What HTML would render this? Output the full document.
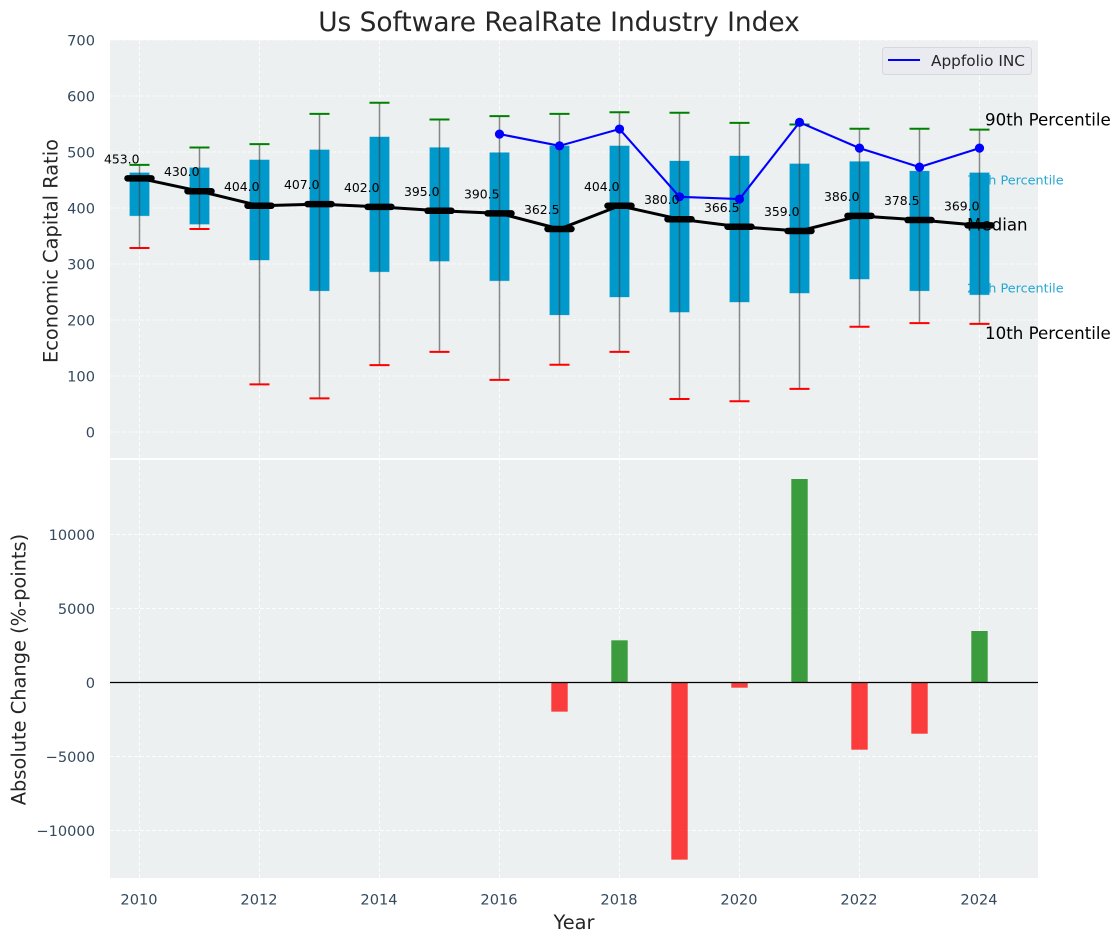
<!DOCTYPE html>
<html lang="en">
<head>
<meta charset="utf-8">
<title>Us Software RealRate Industry Index</title>
<style>
html,body{margin:0;padding:0;background:#fff;width:1120px;height:942px;overflow:hidden}
svg{display:block;font-family:"DejaVu Sans","Liberation Sans",sans-serif}
</style>
</head>
<body>
<svg id="chart" xmlns="http://www.w3.org/2000/svg" width="1120" height="942" viewBox="0 0 1120 942">
  <rect x="110" y="40" width="928" height="418" fill="#ecf0f1"/>
  <rect x="110" y="460" width="928" height="418" fill="#ecf0f1"/>
  <g id="grid"></g>
  <g id="ticks" font-size="14.6" fill="#34495e"></g>
  <g id="boxes"></g>
  <g id="annotations">
    <text x="967" y="184.5" font-size="12.8" fill="#0099cc" fill-opacity="0.85">75th Percentile</text>
    <text x="967" y="292.5" font-size="12.8" fill="#0099cc" fill-opacity="0.85">25th Percentile</text>
    <text x="967" y="230.5" font-size="16.67" fill="#000">Median</text>
  </g>
  <g id="whiskers"></g>
  <path id="median-line" fill="none" stroke="#000" stroke-width="3"/>
  <g id="median-caps"></g>
  <path id="company-line" fill="none" stroke="#0000ff" stroke-width="2.1"/>
  <g id="company-points"></g>
  <g id="median-values" font-size="12.4" fill="#000" text-anchor="end"></g>
  <text x="985" y="125.5" font-size="16.67" fill="#000">90th Percentile</text>
  <text x="985" y="339" font-size="16.67" fill="#000">10th Percentile</text>
  <g id="change-bars"></g>
  <line id="zero-line" x1="110" x2="1038" stroke="#000" stroke-width="1.3"/>
  <text x="559" y="31" font-size="26.4" fill="#262626" text-anchor="middle">Us Software RealRate Industry Index</text>
  <text transform="translate(57.5,251) rotate(-90)" font-size="19.4" fill="#262626" text-anchor="middle">Economic Capital Ratio</text>
  <text transform="translate(25.5,669.5) rotate(-90)" font-size="19.4" fill="#262626" text-anchor="middle">Absolute Change (%-points)</text>
  <text x="574" y="929" font-size="19.4" fill="#262626" text-anchor="middle">Year</text>
  <g>
    <rect x="882.5" y="47.5" width="149" height="27" rx="3" fill="#e9ebf1" stroke="#d6d8dd" stroke-width="1"/>
    <line x1="888" x2="920" y1="60" y2="60" stroke="#0000ff" stroke-width="2"/>
    <text x="931" y="66" font-size="15.3" fill="#262626">Appfolio INC</text>
  </g>
</svg>
<script>
const years = [2010,2011,2012,2013,2014,2015,2016,2017,2018,2019,2020,2021,2022,2023,2024];
const p90 = [477,508,514,568,588,558,564,568,571,570,552,549,541.6,541.6,540];
const p75 = [463,472,486,504,527,508,499,511,511,484,493,479,483,466,463];
const medians = [453,430,404,407,402,395,390.5,362.5,404,380,366.5,359,386,378.5,369];
const p25 = [386,371,307,252,286,305,270,209,241,214,232,248,273,252,245];
const p10 = [328.5,362.5,85,60,119.5,143,93,120,143,59,55,77,188,194.5,193];
const companyYears = [2016,2017,2018,2019,2020,2021,2022,2023,2024];
const companyValues = [532,511,541,420,416,553,507,473,507];
const changeYears = [2017,2018,2019,2020,2021,2022,2023,2024];
const changeValues = [-1970,2850,-11970,-350,13750,-4540,-3460,3480];
const xTicks = [2010,2012,2014,2016,2018,2020,2022,2024];
const topTicks = [0,100,200,300,400,500,600,700];
const bottomTicks = [-10000,-5000,0,5000,10000];

const NS = 'http://www.w3.org/2000/svg';
const xScale = function (year) { return 139.5 + (year - 2010) * 60; };
const yTop = function (value) { return 432 - value * 0.56; };
const yBottom = function (value) { return 682.5 - value * 0.0148; };
const make = function (parent, tag, props) {
  const node = document.createElementNS(NS, tag);
  Object.keys(props).forEach(function (key) { node.setAttribute(key, props[key]); });
  document.getElementById(parent).appendChild(node);
  return node;
};
const gridProps = { stroke: '#ffffff', 'stroke-width': 1, 'stroke-dasharray': '4 2', 'stroke-opacity': 0.8 };

xTicks.forEach(function (year) {
  [[40, 458], [460, 878]].forEach(function (span) {
    const line = make('grid', 'line', Object.assign({ x1: xScale(year), x2: xScale(year), y1: span[0], y2: span[1] }, gridProps));
    
    
  });
  const label = make('ticks', 'text', { x: xScale(year) - 0.5, y: 904.5, 'text-anchor': 'middle' });
  
  
  label.textContent = year;
});

topTicks.forEach(function (value) {
  const line = make('grid', 'line', Object.assign({ x1: 110, x2: 1038, y1: yTop(value), y2: yTop(value) }, gridProps));
  
  
  const label = make('ticks', 'text', { x: 95, y: yTop(value) + 5.3, 'text-anchor': 'end' });
  
  
  label.textContent = value;
});

bottomTicks.forEach(function (value) {
  const line = make('grid', 'line', Object.assign({ x1: 110, x2: 1038, y1: yBottom(value), y2: yBottom(value) }, gridProps));
  
  
  const label = make('ticks', 'text', { x: 95, y: yBottom(value) + 5.3, 'text-anchor': 'end' });
  
  
  label.textContent = String(value).replace('-', '\u2212');
});

years.forEach(function (year, i) {
  const cx = xScale(year);
  const box = make('boxes', 'rect', { x: cx - 9.8, y: yTop(p75[i]), width: 19.6, height: yTop(p25[i]) - yTop(p75[i]), fill: '#0099cc', stroke: '#0099cc', 'stroke-opacity': 0.2, 'stroke-width': 1 });
  
  

  const whisker = make('whiskers', 'line', { x1: cx, x2: cx, y1: yTop(p90[i]), y2: yTop(p10[i]), stroke: '#404040', 'stroke-opacity': 0.6, 'stroke-width': 1.5 });
  
  

  const capHigh = make('whiskers', 'line', { x1: cx - 10, x2: cx + 10, y1: yTop(p90[i]), y2: yTop(p90[i]), stroke: '#008000', 'stroke-width': 2 });
  
  

  const capLow = make('whiskers', 'line', { x1: cx - 10, x2: cx + 10, y1: yTop(p10[i]), y2: yTop(p10[i]), stroke: '#ff0000', 'stroke-width': 2 });
  
  

  const medianCap = make('median-caps', 'line', { x1: cx - 12, x2: cx + 12, y1: yTop(medians[i]), y2: yTop(medians[i]), stroke: '#000', 'stroke-width': 6.5, 'stroke-linecap': 'round' });
  
  

  const value = make('median-values', 'text', { x: cx, y: yTop(medians[i]) - 15 });
  
  
  value.textContent = medians[i].toFixed(1);
});

document.getElementById('median-line').setAttribute('d', years.map(function (year, i) {
  return (i ? 'L' : 'M') + xScale(year) + ' ' + yTop(medians[i]);
}).join(' '));

document.getElementById('company-line').setAttribute('d', companyYears.map(function (year, i) {
  return (i ? 'L' : 'M') + xScale(year) + ' ' + yTop(companyValues[i]);
}).join(' '));

companyYears.forEach(function (year, i) {
  const point = make('company-points', 'circle', { cx: xScale(year), cy: yTop(companyValues[i]), r: 4.6, fill: '#0000ff' });
  
  
});

changeYears.forEach(function (year, i) {
  const value = changeValues[i];
  const bar = make('change-bars', 'rect', {
    x: xScale(year) - 8.2,
    y: Math.min(yBottom(value), yBottom(0)),
    width: 16.4,
    height: Math.abs(yBottom(value) - yBottom(0)),
    fill: value >= 0 ? '#008000' : '#ff0000',
    'fill-opacity': 0.75
  });
  
  
});

const zeroLine = document.getElementById('zero-line');
zeroLine.setAttribute('y1', yBottom(0));
zeroLine.setAttribute('y2', yBottom(0));
</script>
</body>
</html>
